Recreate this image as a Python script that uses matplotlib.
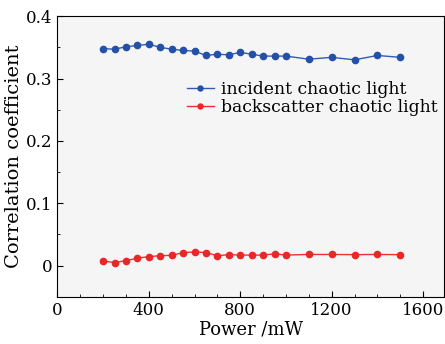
import matplotlib
matplotlib.use("Agg")
import matplotlib.pyplot as plt
from matplotlib.ticker import MultipleLocator

power = [200, 250, 300, 350, 400, 450, 500, 550, 600, 650, 700, 750, 800, 850,
         900, 950, 1000, 1100, 1200, 1300, 1400, 1500]
incident = [0.348, 0.347, 0.351, 0.353, 0.355, 0.350, 0.347, 0.345, 0.344, 0.337,
            0.339, 0.338, 0.342, 0.339, 0.336, 0.336, 0.336, 0.331, 0.334, 0.330,
            0.337, 0.334]
backscatter = [0.0075, 0.005, 0.008, 0.012, 0.0145, 0.016, 0.0166, 0.021, 0.022,
               0.021, 0.016, 0.0177, 0.017, 0.017, 0.017, 0.019, 0.017, 0.018,
               0.018, 0.0177, 0.018, 0.0177]

plt.rcParams['font.family'] = ['DejaVu Serif']
fig = plt.figure(figsize=(4.45, 3.44), dpi=100)
ax = fig.add_axes([0.129, 0.137, 0.869, 0.816])
ax.set_facecolor('#f5f5f5')

ax.plot(power, incident, '-o', color='#2f5cb8', mfc='#2550a8', mec='#2550a8',
        lw=1.0, ms=4.5, label='incident chaotic light')
ax.plot(power, backscatter, '-o', color='#f03030', mfc='#e82828', mec='#e82828',
        lw=1.0, ms=4.5, label='backscatter chaotic light')

ax.set_xlim(0, 1692)
ax.set_ylim(-0.05, 0.4)
ax.xaxis.set_major_locator(MultipleLocator(400))
ax.xaxis.set_minor_locator(MultipleLocator(100))
ax.yaxis.set_minor_locator(MultipleLocator(0.05))
ax.set_yticks([0, 0.1, 0.2, 0.3, 0.4])
ax.set_yticklabels(['0', '0.1', '0.2', '0.3', '0.4'])
ax.tick_params(which='both', direction='in', labelsize=12)
ax.tick_params(which='major', length=4)
ax.tick_params(which='minor', length=2.5)
for s in ax.spines.values():
    s.set_linewidth(0.8)

ax.set_xlabel('Power /mW', fontsize=13, labelpad=1)
ax.set_ylabel('Correlation coefficient', fontsize=14, labelpad=2)

ax.legend(loc='upper right', bbox_to_anchor=(0.992, 0.78), frameon=False,
          fontsize=12.4, handlelength=1.6, handletextpad=0.4, labelspacing=0.02,
          borderaxespad=0.1, borderpad=0.1, markerscale=0.8)

fig.savefig('out.png', dpi=100)
